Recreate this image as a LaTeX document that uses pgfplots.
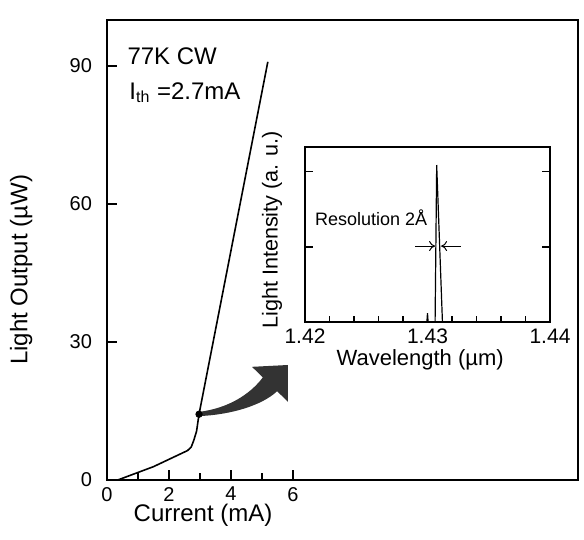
\documentclass[border=0pt]{standalone}
\usepackage{pgfplots}
\pgfplotsset{compat=1.18}
\usepackage{fontspec}
\setmainfont{Liberation Sans}
\usetikzlibrary{arrows.meta}
\begin{document}
\begin{tikzpicture}
\useasboundingbox (0,0) rectangle (292pt,270pt);
% main L-I curve
\begin{axis}[
  at={(53.5pt,30pt)}, anchor=south west,
  width=235.5pt, height=230pt, scale only axis,
  xmin=0, xmax=15.2, ymin=0, ymax=100,
  axis line style={line width=0.8pt},
  xtick={0,2,4,6}, minor xtick={1,3,5},
  ytick={0,30,60,90},
  xtick pos=bottom, ytick pos=left, tick align=inside,
  major tick length=5pt, minor tick length=3.5pt,
  every tick/.style={line width=0.8pt,black},
  ticklabel style={font=\fontsize{10}{12}\selectfont},
  yticklabel style={xshift=-4pt},
  /pgf/number format/assume math mode=true,
  xlabel={Current (mA)}, ylabel={Light Output (µW)},
  label style={font=\fontsize{12}{14}\selectfont},
  xlabel style={at={(axis description cs:0.204,-0.076)},anchor=center},
  ylabel style={at={(axis description cs:-0.182,0.457)},anchor=center},
  clip=false,
]
\addplot[black, line width=0.8pt] coordinates {
  (0.35,0) (1.5,2.9) (2.6,6.4) (2.72,7.2) (2.8,8.6) (2.89,10.6) (2.97,14.3) (5.19,90.9)};
\addplot[only marks, mark=*, mark size=1.6pt, black] coordinates {(2.97,14.3)};
% curved arrow to the inset
\fill[black!80] (axis cs:2.97,14.8) .. controls (axis cs:3.9,15.6) and (axis cs:4.6,18.5) .. (axis cs:5.03,22.3)
  -- (axis cs:4.68,24.6) -- (axis cs:5.84,25.0) -- (axis cs:5.84,17.0) -- (axis cs:5.49,19.3)
  .. controls (axis cs:5.0,16.2) and (axis cs:4.0,14.2) .. (axis cs:3.0,13.9) -- cycle;
\node[anchor=north west, inner sep=0, font=\fontsize{12}{14}\selectfont] at (axis cs:0.65,94.1) {77K CW};
\node[anchor=north west, inner sep=0, font=\fontsize{12}{14}\selectfont] at (axis cs:0.71,86.5) {I$_{\mathrm{th}}$ =2.7mA};
\end{axis}
% inset spectrum
\begin{axis}[
  at={(152.5pt,109pt)}, anchor=south west,
  width=122.5pt, height=87.5pt, scale only axis,
  xmin=1.42, xmax=1.44, ymin=0, ymax=1,
  axis line style={line width=0.8pt},
  xtick={1.42,1.43,1.44}, xticklabels={1.42,1.43,1.44},
  minor xtick={1.422,1.424,1.426,1.428,1.432,1.434,1.436,1.438},
  ytick={0.43,0.86}, yticklabels={},
  xtick pos=bottom, ytick pos=both, tick align=inside,
  major tick length=4pt, minor tick length=3pt,
  every tick/.style={line width=0.8pt,black},
  ticklabel style={font=\fontsize{10.5}{12}\selectfont},
  xlabel={Wavelength (µm)}, ylabel={Light Intensity (a. u.)},
  xlabel style={font=\fontsize{11}{13}\selectfont, at={(axis description cs:0.47,-0.215)},anchor=center},
  ylabel style={font=\fontsize{10.8}{12}\selectfont, at={(axis description cs:-0.135,0.526)},anchor=center},
  clip=false,
]
\addplot[black, line width=0.6pt] coordinates {
  (1.42,0) (1.42995,0) (1.43,0.05) (1.43005,0) (1.43062,0) (1.43075,0.897) (1.43122,0) (1.44,0)};
\draw[-{To[length=3pt,width=5pt]}, line width=0.5pt] (axis cs:1.4290,0.434) -- (axis cs:1.43062,0.434);
\draw[-{To[length=3pt,width=5pt]}, line width=0.5pt] (axis cs:1.4327,0.434) -- (axis cs:1.43111,0.434);
\node[anchor=west, inner sep=0, font=\fontsize{9}{11}\selectfont] at (axis cs:1.4208,0.594) {Resolution 2Å};
\end{axis}
\end{tikzpicture}
\end{document}
